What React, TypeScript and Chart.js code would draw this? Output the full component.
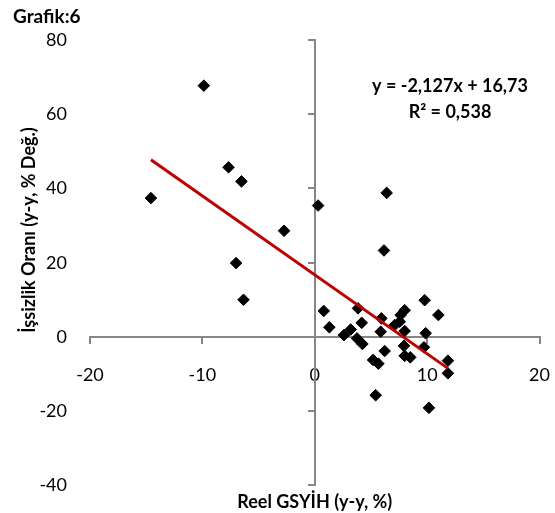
import React, { useEffect, useRef } from 'react';
import { Chart, registerables } from 'chart.js';

Chart.register(...registerables);

// Reel GSYİH büyümesi (y-y, %)
const gdpGrowth = [
  -14.58, -9.87, -7.67, -6.52, -2.73, -7.0, -6.34, 0.3, 6.4, 6.16,
  0.8, 3.85, 1.3, 4.18, 2.6, 3.2, 3.76, 4.24, 5.93, 5.87,
  6.22, 5.19, 5.66, 7.11, 7.64, 8.0, 7.56, 8.0, 7.94, 8.0,
  8.5, 9.78, 11.0, 9.87, 9.72, 11.85, 11.85, 5.42, 10.16,
];
// İşsizlik oranı değişimi (y-y, % Değ.)
const unemploymentChange = [
  37.4, 67.7, 45.7, 41.9, 28.6, 19.9, 10.0, 35.4, 38.8, 23.3,
  7.0, 7.7, 2.6, 3.8, 0.5, 2.0, -0.4, -1.9, 5.0, 1.4,
  -3.8, -6.2, -7.2, 3.2, 5.9, 7.2, 4.1, 1.6, -2.4, -5.1,
  -5.5, 9.9, 5.9, 1.0, -2.8, -6.4, -9.8, -15.7, -19.1,
];

const xTickRange = [-20, 20];
const xTickStep = 10;
const yTickRange = [-40, 80];
const yTickStep = 20;

const trendSlope = -2.127;
const trendIntercept = 16.73;

const chartLabel = 'Grafik:6';
const equationText = 'y = -2,127x + 16,73';
const r2Text = 'R² = 0,538';
const xTitle = 'Reel GSYİH (y-y, %)';
const yTitle = 'İşsizlik Oranı (y-y, % Değ.)';

const FONT = 'Lato, "Open Sans", sans-serif';
const AXIS_GRAY = '#868686';

const textPlugin = {
  id: 'textPlugin',
  afterDraw(chart: any) {
    const ctx = chart.ctx;
    const area = chart.chartArea;
    ctx.save();
    ctx.fillStyle = '#000';
    ctx.textBaseline = 'alphabetic';

    ctx.font = `bold 19px ${FONT}`;
    ctx.textAlign = 'left';
    ctx.fillText(chartLabel, 13, 22.5);

    ctx.font = `bold 18px ${FONT}`;
    ctx.textAlign = 'center';
    ctx.fillText(equationText, 450, 92);
    ctx.fillText(r2Text, 450, 118);

    ctx.font = `bold 18px ${FONT}`;
    ctx.fillText(xTitle, (area.left + area.right) / 2, 508);

    ctx.translate(35, 230);
    ctx.rotate(-Math.PI / 2);
    ctx.fillText(yTitle, 0, 0);
    ctx.restore();
  },
};

export default function App() {
  const canvasRef = useRef<HTMLCanvasElement | null>(null);

  useEffect(() => {
    if (!canvasRef.current) return;
    const points = gdpGrowth.map((x, i) => ({ x, y: unemploymentChange[i] }));
    const xMin = Math.min(...gdpGrowth);
    const xMax = Math.max(...gdpGrowth);
    const trend = [
      { x: xMin, y: trendSlope * xMin + trendIntercept },
      { x: xMax, y: trendSlope * xMax + trendIntercept },
    ];

    const tickFont = { family: FONT, size: 18 };
    const noPad = (scale: any) => {
      scale.paddingLeft = 0;
      scale.paddingRight = 0;
      scale.paddingTop = 0;
      scale.paddingBottom = 0;
    };

    const chart = new Chart(canvasRef.current, {
      type: 'scatter',
      data: {
        datasets: [
          {
            type: 'line',
            label: 'Doğrusal',
            data: trend,
            borderColor: '#C00000',
            borderWidth: 3,
            pointRadius: 0,
            fill: false,
            showLine: true,
          } as any,
          {
            label: 'Veri',
            data: points,
            pointStyle: 'rectRot',
            pointRadius: 5.8,
            pointHoverRadius: 5.8,
            backgroundColor: '#000',
            borderColor: '#000',
            borderWidth: 1,
          },
        ],
      },
      options: {
        animation: false,
        responsive: false,
        devicePixelRatio: 1,
        layout: { padding: { left: 0, right: 15.5, top: 40, bottom: 27.6 } },
        plugins: {
          legend: { display: false },
          tooltip: { enabled: false },
          title: { display: false },
        },
        scales: {
          x: {
            type: 'linear',
            position: { y: 0 } as any,
            min: xTickRange[0],
            max: xTickRange[1],
            ticks: { stepSize: xTickStep, color: '#000', font: tickFont, padding: 21 },
            grid: {
              display: true,
              drawOnChartArea: false,
              drawTicks: true,
              tickLength: 6,
              color: AXIS_GRAY,
              lineWidth: 2,
            },
            border: { display: true, color: AXIS_GRAY, width: 2 },
            afterFit: noPad,
          },
          y: {
            type: 'linear',
            position: 'left',
            min: yTickRange[0],
            max: yTickRange[1],
            ticks: { stepSize: yTickStep, color: '#000', font: tickFont, padding: 23 },
            grid: { display: false, drawTicks: false, tickLength: 0 },
            border: { display: false },
            afterFit: (scale: any) => {
              noPad(scale);
              scale.width = 90;
            },
          },
          yLine: {
            type: 'linear',
            axis: 'y',
            position: { x: 0 } as any,
            min: yTickRange[0],
            max: yTickRange[1],
            ticks: { stepSize: yTickStep, display: false },
            grid: {
              display: true,
              drawOnChartArea: false,
              drawTicks: true,
              tickLength: 6,
              color: AXIS_GRAY,
              lineWidth: 2,
            },
            border: { display: true, color: AXIS_GRAY, width: 2 },
            afterFit: noPad,
          },
        } as any,
      },
      plugins: [textPlugin],
    });

    return () => chart.destroy();
  }, []);

  return (
    <div style={{ position: 'absolute', left: 0, top: 0, width: 555, height: 513, background: '#fff' }}>
      <canvas ref={canvasRef} width={555} height={513} />
    </div>
  );
}
